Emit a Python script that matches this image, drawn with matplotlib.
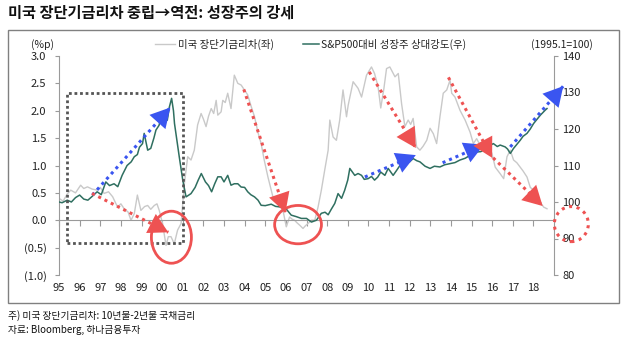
import matplotlib
matplotlib.use("Agg")
import matplotlib.pyplot as plt
from matplotlib.patches import Ellipse, Rectangle
from matplotlib.lines import Line2D

plt.rcParams['font.family'] = ['Noto Sans CJK KR', 'DejaVu Sans']

# ---- data ----
spread_x = [1995.0, 1995.2, 1995.4, 1995.57, 1995.8, 1996.05, 1996.2, 1996.38, 1996.6, 1996.86,
            1997.0, 1997.19, 1997.4, 1997.6, 1997.84, 1998.0, 1998.16, 1998.35, 1998.49, 1998.65,
            1998.8, 1998.97, 1999.15, 1999.3, 1999.45, 1999.62, 1999.75, 1999.86, 2000.02, 2000.19,
            2000.3, 2000.43, 2000.59, 2000.75, 2000.92, 2001.08, 2001.24, 2001.4, 2001.56, 2001.72,
            2001.89, 2002.0, 2002.13, 2002.25, 2002.38, 2002.5, 2002.62, 2002.7, 2002.86, 2002.94,
            2003.06, 2003.18, 2003.34, 2003.5, 2003.67, 2003.83, 2003.99, 2004.15, 2004.3, 2004.48,
            2004.65, 2004.8, 2004.95, 2005.13, 2005.37, 2005.61, 2005.86, 2006.02, 2006.18, 2006.3,
            2006.42, 2006.55, 2006.67, 2006.83, 2006.95, 2007.07, 2007.24, 2007.4, 2007.56, 2007.72,
            2007.88, 2008.05, 2008.13, 2008.29, 2008.45, 2008.61, 2008.77, 2008.94, 2009.02, 2009.26,
            2009.5, 2009.67, 2009.91, 2010.15, 2010.3, 2010.47, 2010.6, 2010.75, 2010.88, 2011.04,
            2011.29, 2011.45, 2011.61, 2011.77, 2011.93, 2012.05, 2012.17, 2012.34, 2012.5, 2012.65,
            2012.83, 2012.99, 2013.15, 2013.31, 2013.47, 2013.63, 2013.8, 2013.96, 2014.04, 2014.2,
            2014.44, 2014.69, 2014.93, 2015.09, 2015.25, 2015.42, 2015.58, 2015.74, 2015.99, 2016.15,
            2016.39, 2016.56, 2016.72, 2016.88, 2017.04, 2017.2, 2017.36, 2017.5, 2017.69, 2017.85,
            2018.01, 2018.15, 2018.25, 2018.5, 2018.66]
spread = [0.40, 0.35, 0.48, 0.55, 0.50, 0.64, 0.58, 0.61, 0.57, 0.55,
          0.60, 0.49, 0.52, 0.43, 0.24, 0.30, 0.21, 0.15, 0.00, 0.12,
          0.46, 0.18, 0.25, 0.27, 0.20, 0.27, 0.30, 0.18, -0.06, -0.46,
          -0.30, -0.30, -0.43, -0.18, -0.06, 0.67, 1.16, 1.10, 1.28, 1.74,
          1.95, 1.85, 1.71, 1.90, 2.04, 1.95, 2.19, 1.92, 1.98, 2.19,
          2.15, 2.32, 2.04, 2.65, 2.50, 2.47, 2.38, 2.29, 2.10, 1.89,
          1.60, 1.40, 1.10, 0.79, 0.43, 0.30, 0.18, -0.12, 0.06, 0.02,
          0.00, -0.05, -0.09, -0.15, -0.10, -0.06, 0.00, 0.00, 0.24, 0.55,
          0.91, 1.28, 1.83, 1.52, 1.46, 1.83, 2.38, 1.89, 2.10, 2.53,
          2.41, 2.25, 2.65, 2.80, 2.68, 2.44, 2.05, 2.40, 2.77, 2.80,
          2.62, 2.68, 2.13, 1.71, 1.83, 1.75, 1.86, 1.34, 1.28, 1.35,
          1.46, 1.68, 1.58, 1.40, 1.89, 2.32, 2.38, 2.56, 2.32, 2.25,
          2.01, 1.83, 1.61, 1.40, 1.49, 1.37, 1.28, 1.46, 1.22, 0.97,
          0.85, 0.76, 1.16, 1.28, 1.10, 1.05, 0.97, 0.90, 0.79, 0.60,
          0.55, 0.45, 0.37, 0.24, 0.21]

growth_x = [1995.0, 1995.15, 1995.4, 1995.6, 1995.8, 1996.0, 1996.2, 1996.4, 1996.6, 1996.85,
            1997.05, 1997.27, 1997.45, 1997.67, 1997.85, 1998.06, 1998.3, 1998.5, 1998.65, 1998.8,
            1998.9, 1999.05, 1999.13, 1999.3, 1999.45, 1999.6, 1999.7, 1999.85, 1999.95, 2000.1,
            2000.25, 2000.35, 2000.46, 2000.55, 2000.6, 2000.83, 2001.0, 2001.16, 2001.4, 2001.6,
            2001.75, 2001.9, 2002.1, 2002.25, 2002.4, 2002.55, 2002.7, 2002.86, 2003.0, 2003.18,
            2003.34, 2003.5, 2003.67, 2003.83, 2004.0, 2004.15, 2004.3, 2004.48, 2004.65, 2004.8,
            2005.0, 2005.29, 2005.5, 2005.78, 2006.0, 2006.26, 2006.5, 2006.75, 2007.0, 2007.24,
            2007.48, 2007.72, 2007.9, 2008.05, 2008.2, 2008.37, 2008.53, 2008.7, 2008.85, 2009.0,
            2009.1, 2009.34, 2009.5, 2009.67, 2009.8, 2009.99, 2010.15, 2010.3, 2010.45, 2010.6,
            2010.8, 2010.96, 2011.2, 2011.35, 2011.53, 2011.7, 2011.85, 2012.0, 2012.17, 2012.35,
            2012.5, 2012.75, 2012.99, 2013.2, 2013.47, 2013.7, 2013.96, 2014.2, 2014.44, 2014.7,
            2014.93, 2015.1, 2015.25, 2015.45, 2015.58, 2015.74, 2015.9, 2016.06, 2016.25, 2016.39,
            2016.63, 2016.75, 2016.88, 2017.04, 2017.2, 2017.36, 2017.5, 2017.69, 2017.85, 2018.01,
            2018.2, 2018.34, 2018.58, 2018.66]
growth = [100.0, 99.8, 100.5, 100.0, 101.2, 101.9, 100.8, 100.5, 101.5, 102.8,
          102.0, 105.5, 104.5, 105.0, 104.2, 107.3, 110.0, 111.0, 112.4, 113.0,
          115.0, 116.0, 118.8, 114.2, 114.7, 117.5, 119.7, 121.0, 123.3, 125.0,
          122.4, 126.0, 128.4, 125.0, 121.5, 112.4, 106.0, 101.4, 102.3, 104.0,
          106.0, 107.8, 105.5, 104.5, 102.8, 105.0, 106.9, 106.9, 105.5, 107.3,
          104.6, 105.0, 105.0, 104.1, 104.0, 102.8, 102.0, 101.4, 100.5, 99.1,
          99.0, 99.4, 98.8, 98.6, 98.2, 96.4, 96.0, 95.5, 95.5, 94.5,
          95.0, 96.9, 97.2, 96.5, 98.0, 99.6, 102.3, 101.0, 103.2, 106.0,
          109.2, 107.3, 107.8, 107.3, 106.2, 106.4, 107.0, 106.0, 106.8, 108.2,
          107.3, 109.2, 107.3, 108.5, 110.0, 111.2, 111.5, 111.0, 111.9, 111.3,
          111.0, 109.8, 109.2, 109.8, 109.6, 110.2, 110.5, 110.8, 111.5, 112.0,
          112.8, 113.2, 113.7, 113.8, 114.2, 114.7, 115.5, 116.0, 115.2, 115.6,
          115.1, 114.5, 113.3, 114.7, 115.8, 116.9, 118.0, 118.8, 120.0, 121.5,
          122.8, 123.8, 125.2, 125.6]

years = list(range(1995, 2019))
year_labels = ['%02d' % (y % 100) for y in years]
left_ticks = [3.0, 2.5, 2.0, 1.5, 1.0, 0.5, 0.0, -0.5, -1.0]
left_labels = ['3.0', '2.5', '2.0', '1.5', '1.0', '0.5', '0.0', '(0.5)', '(1.0)']
right_ticks = [140, 130, 120, 110, 100, 90, 80]

# annotation arrows in left-axis units: (start, end)
blue_arrows = [((1996.62, 0.46), (2000.4, 2.06)),
               ((2009.83, 0.79), (2012.3, 1.19)),
               ((2013.6, 1.05), (2015.6, 1.38)),
               ((2016.88, 1.34), (2019.45, 2.45))]
red_arrows = [((1996.6, 0.49), (2000.3, -0.22)),
              ((2003.96, 2.39), (2005.98, 0.14)),
              ((2010.04, 2.71), (2012.3, 1.32)),
              ((2013.88, 2.61), (2016.0, 1.14)),
              ((2016.05, 1.14), (2018.45, 0.26))]
BLUE = '#3a55f0'
RED = '#ee5252'
GRAY = '#c9c9c9'
GREEN = '#2f6f60'
AXC = '#9a9a9a'

fig = plt.figure(figsize=(6.3, 3.38), dpi=100)
ax = fig.add_axes([59 / 630, 1 - 275 / 338, (554 - 59) / 630, (275 - 56) / 338])
ax2 = ax.twinx()

ax.plot(spread_x, spread, color=GRAY, lw=1.0, zorder=2)
ax2.plot(growth_x, growth, color=GREEN, lw=1.1, zorder=3)

ax.set_xlim(1995, 2019)
ax.set_ylim(-1.0, 3.0)
ax2.set_ylim(80, 140)

for s in ['top', 'right']:
    ax.spines[s].set_visible(False)
for s in ['top', 'left', 'bottom']:
    ax2.spines[s].set_visible(False)
ax.spines['left'].set_color(AXC)
ax2.spines['right'].set_color(AXC)
ax.spines['bottom'].set_position(('data', 0))
ax.spines['bottom'].set_color(AXC)

ax.set_xticks(years)
ax.set_xticklabels(year_labels)
ax.tick_params(axis='x', direction='out', length=4, color=AXC, pad=41,
               labelsize=8, labelcolor='#222222')
ax.set_yticks(left_ticks)
ax.set_yticklabels(left_labels)
ax.tick_params(axis='y', direction='out', length=3, color=AXC, pad=6,
               labelsize=8, labelcolor='#222222')
ax2.set_yticks(right_ticks)
ax2.tick_params(axis='y', direction='out', length=3, color=AXC, pad=3,
                labelsize=8, labelcolor='#222222')

# ---- annotations ----
tr = ax.transData
ax2.add_patch(Rectangle((1995.37, -0.41), 2001.03 - 1995.37, 2.33 + 0.41, transform=tr,
                        fill=False, ec='#555555', lw=2.0, ls=(0, (1, 1)), zorder=5))
ax2.add_patch(Ellipse((2000.45, -0.31), 1.94, 0.95, transform=tr, fill=False,
                      ec=RED, lw=2.0, zorder=6))
ax2.add_patch(Ellipse((2006.59, -0.08), 2.27, 0.70, transform=tr, fill=False,
                      ec=RED, lw=2.0, zorder=6))
ax2.add_patch(Ellipse((2019.84, -0.07), 1.65, 0.64, transform=tr, fill=False,
                      ec=RED, lw=2.2, ls=(0, (1, 1.5)), zorder=6, clip_on=False))

def dotted_arrow(start, end, color):
    ax2.plot([start[0], end[0]], [start[1], end[1]], transform=tr, color=color,
             lw=2.2, ls=(0, (1, 1.3)), zorder=7, clip_on=False)
    ax2.annotate('', xy=end, xytext=start, xycoords=tr, textcoords=tr,
                 annotation_clip=False, zorder=8,
                 arrowprops=dict(arrowstyle='-|>,head_length=1.0,head_width=0.55',
                                 color=color, lw=0, mutation_scale=14,
                                 shrinkA=0, shrinkB=0))

for s, e in blue_arrows:
    dotted_arrow(s, e, BLUE)
for s, e in red_arrows:
    dotted_arrow(s, e, RED)

# ---- texts ----
fig.text(8 / 630, 1 - 13 / 338, '미국 장단기금리차 중립→역전: 성장주의 강세',
         fontsize=11, fontweight='bold', va='center', ha='left', color='#111111')
fig.text(43 / 630, 1 - 45 / 338, '(%p)', fontsize=7.5, ha='center', va='center', color='#222222')
fig.text(562 / 630, 1 - 45 / 338, '(1995.1=100)', fontsize=7.5, ha='center', va='center',
         color='#222222')

fig.add_artist(Line2D([155 / 630, 175 / 630], [1 - 44 / 338] * 2, color=GRAY, lw=1.0))
fig.text(178 / 630, 1 - 44 / 338, '미국 장단기금리차(좌)', fontsize=7.5, va='center',
         color='#222222')
fig.add_artist(Line2D([303 / 630, 319 / 630], [1 - 44 / 338] * 2, color=GREEN, lw=1.1))
fig.text(321 / 630, 1 - 44 / 338, 'S&P500대비 성장주 상대강도(우)', fontsize=7.5,
         va='center', color='#222222')

fig.add_artist(Rectangle((8 / 630, 1 - 303 / 338), (619 - 8) / 630, (303 - 30) / 338,
                         transform=fig.transFigure, fill=False, ec='#808080', lw=1.0))

fig.text(8 / 630, 1 - 316 / 338, '주) 미국 장단기금리차: 10년물-2년물 국채금리',
         fontsize=7, va='center', color='#111111')
fig.text(8 / 630, 1 - 330 / 338, '자료: Bloomberg, 하나금융투자',
         fontsize=7, va='center', color='#111111')

fig.savefig('out.png', dpi=100)
